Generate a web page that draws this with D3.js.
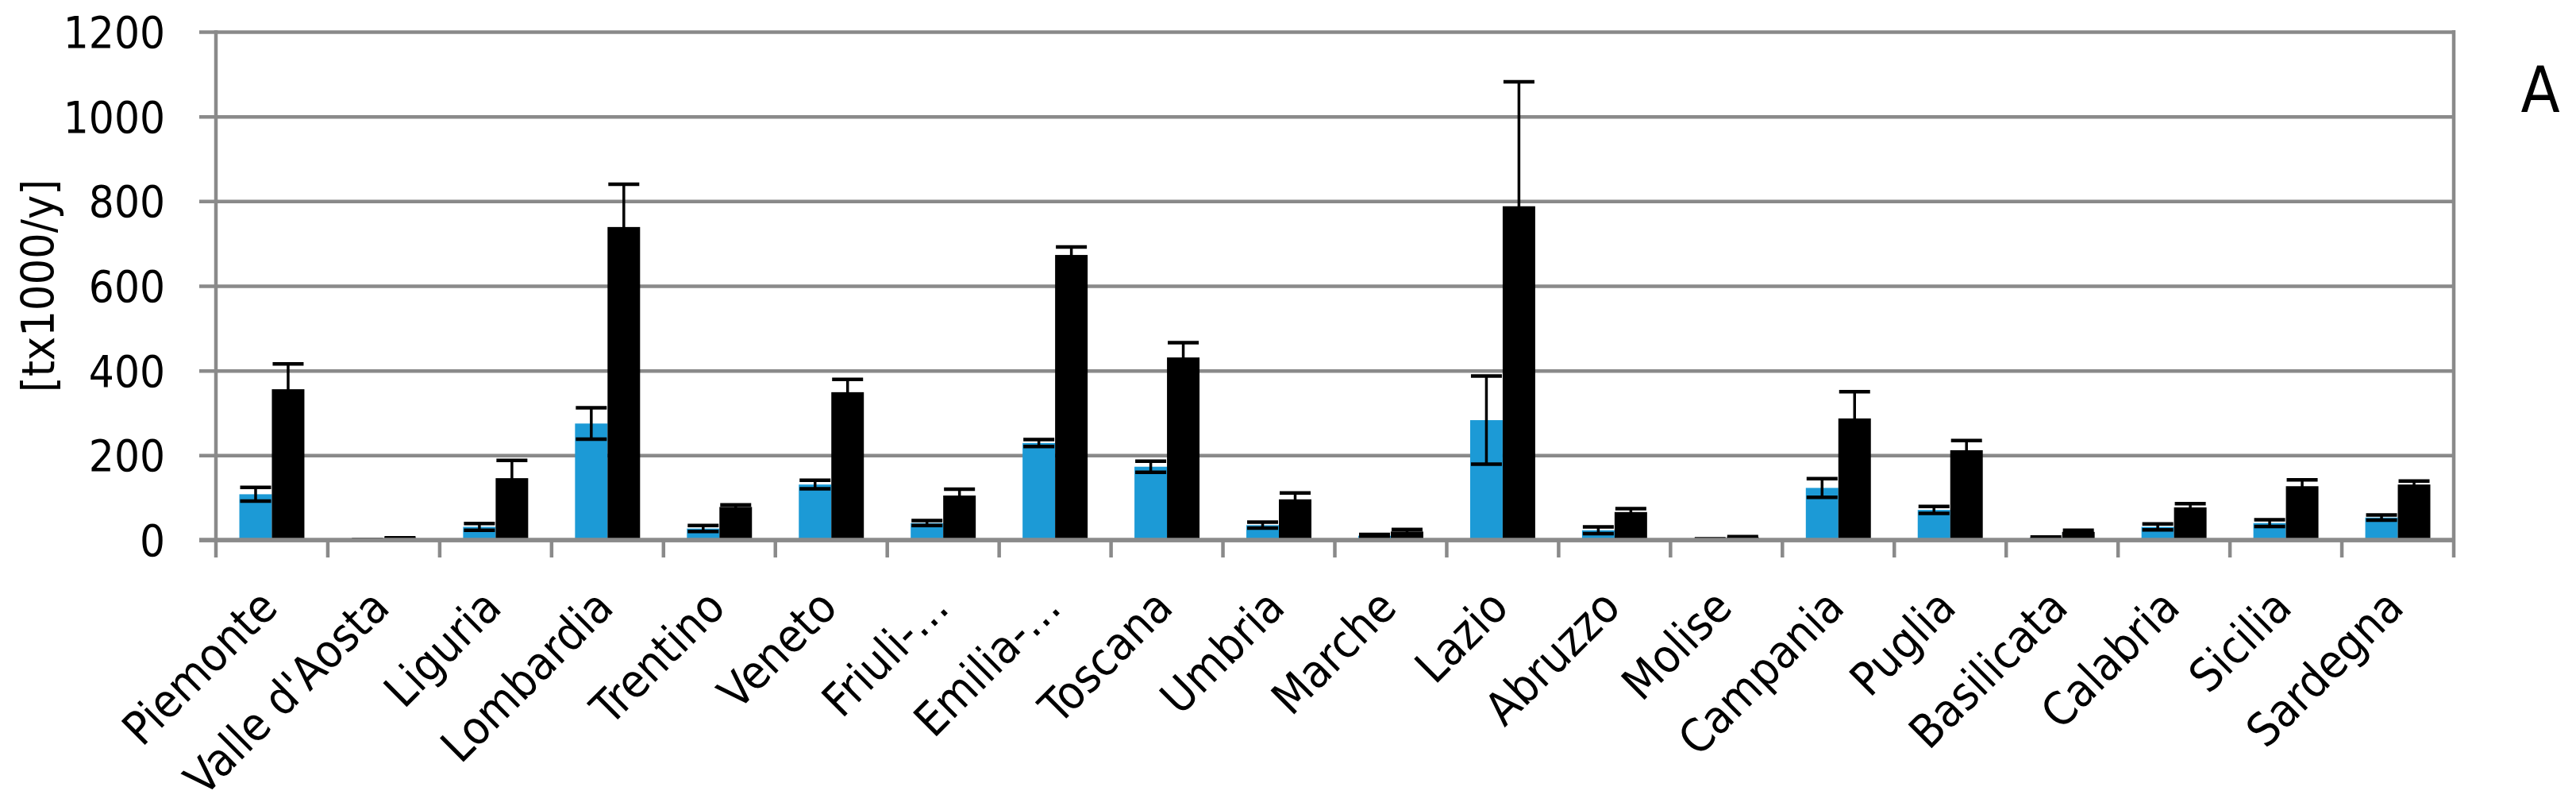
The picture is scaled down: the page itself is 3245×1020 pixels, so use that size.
<!DOCTYPE html>
<html>
<head>
<meta charset="utf-8">
<script src="https://cdn.jsdelivr.net/npm/d3@7"></script>
<style>
  body { margin: 0; background: #fff; }
  #chart { width: 3245px; height: 1020px; }
  text { font-family: "DejaVu Sans Condensed", "DejaVu Sans", sans-serif; fill: #000; }
</style>
</head>
<body>
<div id="chart"></div>
<script>
// values
const regions = ['Piemonte', "Valle d'Aosta", 'Liguria', 'Lombardia', 'Trentino', 'Veneto', 'Friuli-…', 'Emilia-…',
  'Toscana', 'Umbria', 'Marche', 'Lazio', 'Abruzzo', 'Molise', 'Campania', 'Puglia', 'Basilicata', 'Calabria', 'Sicilia', 'Sardegna'];
const blueVals = [108, 1, 31, 275, 27, 131, 40, 229, 173, 35, 10, 283, 23, 2, 123, 71, 5, 31, 40, 53];
const blueErr  = [16, 0.5, 8, 37, 7, 10, 6, 8, 13, 7, 3, 104, 8, 1, 22, 8, 2, 7, 8, 6];
const blackVals = [356, 4, 146, 739, 78, 349, 105, 673, 431, 96, 20, 788, 66, 6, 287, 212, 19, 77, 127, 131];
const blackErr  = [60, 1, 42, 101, 5, 30, 15, 19, 35, 15, 5, 294, 8, 2, 63, 23, 4, 9, 15, 8];
const yTicks = [0, 200, 400, 600, 800, 1000, 1200];
const yTitle = '[tx1000/y]';
const panelLabel = 'A';

const series = [
  {key: 'blue', vals: blueVals, err: blueErr, colour: '#1c9ad6'},
  {key: 'black', vals: blackVals, err: blackErr, colour: '#000000'}
];

const W = 3245, H = 1020;
const margin = {top: 40, right: 154, bottom: 340, left: 272};
const plotW = W - margin.left - margin.right,
      plotH = H - margin.top - margin.bottom;

const svg = d3.select('#chart').append('svg')
    .attr('width', W)
    .attr('height', H);

const g = svg.append('g')
    .attr('transform', 'translate(' + margin.left + ',' + margin.top + ')');

var x0 = d3.scaleBand().domain(regions).range([0, plotW]);
var x1 = d3.scaleBand().domain(series.map(s => s.key)).range([0, x0.bandwidth()]).paddingOuter(0.72);
var y = d3.scaleLinear().domain([0, 1200]).range([plotH, 0]);

const grey = '#8a8a8a';

// gridlines + left tick marks
g.append('g')
  .call(d3.axisLeft(y).tickValues(yTicks).tickSize(-plotW).tickSizeOuter(0).tickFormat(''))
  .call(a => a.select('.domain').remove())
  .selectAll('line')
    .attr('stroke', grey)
    .attr('stroke-width', 4.5)
    .attr('x1', -21);

// y tick labels
g.append('g').selectAll('text')
  .data(yTicks)
  .enter().append('text')
    .attr('x', -64)
    .attr('y', d => y(d))
    .attr('dy', '0.36em')
    .attr('text-anchor', 'end')
    .attr('font-size', 56)
    .text(d => d);

// bars
const groups = g.selectAll('g.region')
  .data(regions)
  .enter().append('g')
    .attr('class', 'region')
    .attr('transform', d => 'translate(' + x0(d) + ',0)');

series.forEach(s => {
  groups.append('rect')
    .attr('x', x1(s.key))
    .attr('width', x1.bandwidth())
    .attr('y', (d, i) => y(s.vals[i]))
    .attr('height', (d, i) => plotH - y(s.vals[i]))
    .attr('fill', s.colour);
});

// error bars
const capW = 39;
series.forEach(s => {
  const cx = x1(s.key) + x1.bandwidth() / 2;
  groups.append('line')
    .attr('x1', cx).attr('x2', cx)
    .attr('y1', (d, i) => y(s.vals[i] + s.err[i]))
    .attr('y2', (d, i) => y(Math.max(0, s.vals[i] - s.err[i])))
    .attr('stroke', '#000')
    .attr('stroke-width', 3.5);
  [1, -1].forEach(sign => {
    groups.append('line')
      .attr('x1', cx - capW / 2).attr('x2', cx + capW / 2)
      .attr('y1', (d, i) => y(Math.max(0, s.vals[i] + sign * s.err[i])))
      .attr('y2', (d, i) => y(Math.max(0, s.vals[i] + sign * s.err[i])))
      .attr('stroke', '#000')
      .attr('stroke-width', 4.5);
  });
});

// left axis and right border
g.append('line')
  .attr('x1', 0).attr('x2', 0).attr('y1', -2).attr('y2', plotH)
  .attr('stroke', grey).attr('stroke-width', 4.5);
g.append('line')
  .attr('x1', plotW).attr('x2', plotW).attr('y1', -2).attr('y2', plotH)
  .attr('stroke', grey).attr('stroke-width', 4.5);

// x axis with ticks between categories
const xAxisGroup = g.append('g')
  .attr('transform', 'translate(0,' + plotH + ')');
xAxisGroup.append('line')
  .attr('x1', -21).attr('x2', plotW + 2)
  .attr('stroke', grey).attr('stroke-width', 5.5);
xAxisGroup.selectAll('line.tick')
  .data(d3.range(regions.length + 1))
  .enter().append('line')
    .attr('class', 'tick')
    .attr('x1', i => i * x0.step()).attr('x2', i => i * x0.step())
    .attr('y1', 0).attr('y2', 22)
    .attr('stroke', grey).attr('stroke-width', 4.5);

xAxisGroup.selectAll('text')
  .data(regions)
  .enter().append('text')
    .attr('transform', d => 'translate(' + (x0(d) + x0.bandwidth() / 2 + 10) + ',' + 88 + ') rotate(-45)')
    .attr('text-anchor', 'end')
    .attr('font-size', 58)
    .text(d => d);

// axis title
svg.append('text')
  .attr('transform', 'translate(68,' + (margin.top + plotH / 2) + ') rotate(-90)')
  .attr('text-anchor', 'middle')
  .attr('font-size', 57)
  .text(yTitle);

// panel letter
svg.append('text')
  .attr('x', 3200)
  .attr('y', 141)
  .attr('text-anchor', 'middle')
  .attr('font-size', 80)
  .text(panelLabel);
</script>
</body>
</html>
